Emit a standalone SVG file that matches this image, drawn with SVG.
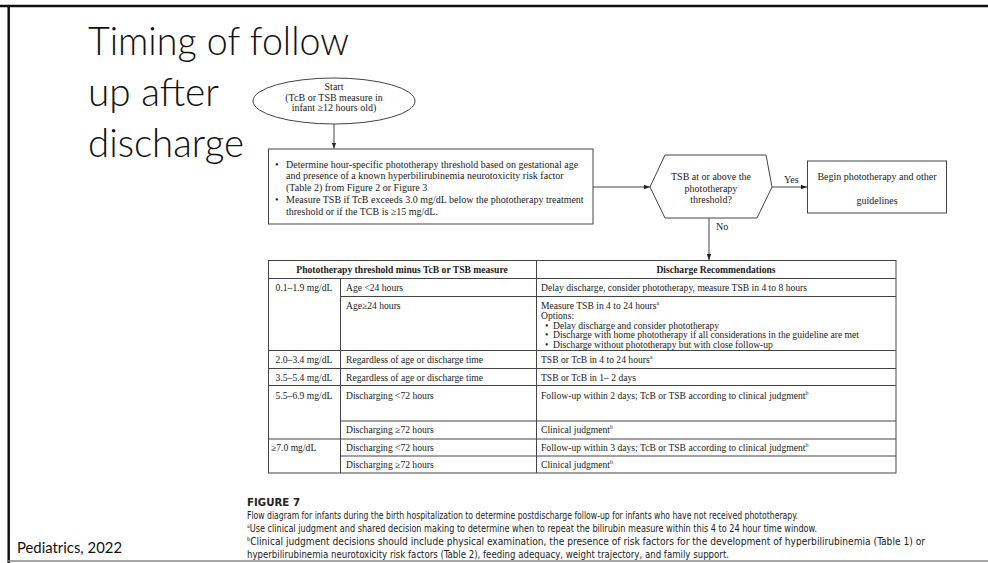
<svg xmlns="http://www.w3.org/2000/svg" width="988" height="563" viewBox="0 0 988 563">
<defs>
<marker id="ah" viewBox="0 0 8 6" refX="8" refY="3" markerWidth="6" markerHeight="5" markerUnits="userSpaceOnUse" orient="auto">
<path d="M0,0 L8,3 L0,6 z" fill="#222"/>
</marker>
<style>
.t{font-family:"Liberation Serif","Times New Roman",serif;font-size:10px;fill:#222}
.tb .t{font-size:9.6px}
.b{font-weight:bold}
.m{text-anchor:middle}
.ln{stroke:#444;stroke-width:1;fill:none}
.sh{fill:#fff;stroke:#444;stroke-width:1}
.cap{font-family:"Liberation Sans Narrow","DejaVu Sans Condensed","Liberation Sans",sans-serif;font-size:11px;fill:#222}
.ttl{font-family:Lato,"Open Sans",sans-serif;font-weight:300;font-size:40px;fill:#111}
.sup{font-size:6px}
</style>
</defs>
<rect width="988" height="563" fill="#fff"/>
<!-- slide frame -->
<line x1="0" y1="6" x2="988" y2="6" stroke="#111" stroke-width="2.5"/>
<line x1="8.7" y1="5" x2="8.7" y2="563" stroke="#111" stroke-width="2.5"/>
<line x1="8" y1="561" x2="988" y2="561" stroke="#888" stroke-width="1.5"/>
<!-- title -->
<g id="title">
<text class="ttl" x="88" y="55" textLength="261" lengthAdjust="spacingAndGlyphs">Timing of follow</text>
<text class="ttl" x="88" y="106" textLength="131" lengthAdjust="spacingAndGlyphs">up after</text>
<text class="ttl" x="88" y="157" textLength="156" lengthAdjust="spacingAndGlyphs">discharge</text>
</g>
<text x="17" y="553" font-family="Lato,'Open Sans',sans-serif" font-size="15" fill="#111" textLength="105" lengthAdjust="spacingAndGlyphs">Pediatrics, 2022</text>
<!-- connectors -->
<g id="connectors">
<line class="ln" x1="334" y1="124" x2="334" y2="148.5" marker-end="url(#ah)"/>
<line class="ln" x1="593" y1="187" x2="650" y2="187" marker-end="url(#ah)"/>
<line class="ln" x1="772" y1="187" x2="807" y2="187" marker-end="url(#ah)"/>
<line class="ln" x1="709" y1="218" x2="709" y2="260" marker-end="url(#ah)"/>
<text class="t" x="784" y="183" font-size="9">Yes</text>
<text class="t" x="716" y="230" font-size="9">No</text>
</g>
<!-- start -->
<g id="start">
<ellipse class="sh" cx="334" cy="101" rx="81" ry="23"/>
<text class="t m" x="334" y="90">Start</text>
<text class="t m" x="334" y="100.5">(TcB or TSB measure in</text>
<text class="t m" x="334" y="111">infant ≥12 hours old)</text>
</g>
<!-- determine box -->
<g id="determine">
<rect class="sh" x="268.5" y="149" width="324.5" height="75"/>
<text class="t" x="275" y="167.5">•</text>
<text class="t" x="286" y="167.5" font-size="9.8">Determine hour-specific phototherapy threshold based on gestational age</text>
<text class="t" x="286" y="179" font-size="9.8">and presence of a known hyperbilirubinemia neurotoxicity risk factor</text>
<text class="t" x="286" y="190.5" font-size="9.8">(Table 2) from Figure 2 or Figure 3</text>
<text class="t" x="275" y="203">•</text>
<text class="t" x="286" y="203" font-size="9.8">Measure TSB if TcB exceeds 3.0 mg/dL below the phototherapy treatment</text>
<text class="t" x="286" y="215" font-size="9.8">threshold or if the TCB is  ≥15 mg/dL.</text>
</g>
<!-- decision -->
<g id="decision">
<polygon class="sh" points="650,187 665,155 766,155 772,187 757,218 665,218"/>
<text class="t m" x="711" y="180">TSB at or above the</text>
<text class="t m" x="711" y="191.5">phototherapy</text>
<text class="t m" x="711" y="203">threshold?</text>
</g>
<!-- begin phototherapy -->
<g id="begin">
<rect class="sh" x="807.5" y="161" width="139" height="52"/>
<text class="t m" x="877" y="179.5">Begin phototherapy and other</text>
<text class="t m" x="877" y="203.5">guidelines</text>
</g>
<!-- table -->
<g id="table" class="tb">
<rect x="268.5" y="260.5" width="627.5" height="212.5" fill="#fff" stroke="#444" stroke-width="1"/>
<g class="ln">
<line x1="268.5" y1="278.5" x2="896" y2="278.5"/>
<line x1="340.5" y1="296.5" x2="896" y2="296.5"/>
<line x1="268.5" y1="350.5" x2="896" y2="350.5"/>
<line x1="268.5" y1="368.5" x2="896" y2="368.5"/>
<line x1="268.5" y1="385.5" x2="896" y2="385.5"/>
<line x1="340.5" y1="421" x2="896" y2="421"/>
<line x1="268.5" y1="439" x2="896" y2="439"/>
<line x1="340.5" y1="456" x2="896" y2="456"/>
<line x1="340.5" y1="278.5" x2="340.5" y2="473"/>
<line x1="536.5" y1="260.5" x2="536.5" y2="473"/>
</g>
<text class="t b m" x="402" y="273">Phototherapy threshold minus TcB or TSB measure</text>
<text class="t b m" x="716" y="273">Discharge Recommendations</text>

<text class="t m" x="304" y="291">0.1–1.9 mg/dL</text>
<text class="t" x="346" y="291">Age &lt;24 hours</text>
<text class="t" x="541" y="291">Delay discharge, consider phototherapy, measure TSB in 4 to 8 hours</text>

<text class="t" x="346" y="309">Age≥24 hours</text>
<text class="t" x="541" y="309">Measure TSB in 4 to 24 hours<tspan class="sup" dy="-4">a</tspan></text>
<text class="t" x="541" y="318.8">Options:</text>
<text class="t" x="545" y="328.6">•</text>
<text class="t" x="553" y="328.6">Delay discharge and consider phototherapy</text>
<text class="t" x="545" y="338.4">•</text>
<text class="t" x="553" y="338.4">Discharge with home phototherapy if all considerations in the guideline are met</text>
<text class="t" x="545" y="348">•</text>
<text class="t" x="553" y="348">Discharge without phototherapy but with close follow-up</text>

<text class="t m" x="304" y="363">2.0–3.4 mg/dL</text>
<text class="t" x="346" y="363">Regardless of age or discharge time</text>
<text class="t" x="541" y="363">TSB or TcB in 4 to 24 hours<tspan class="sup" dy="-4">a</tspan></text>

<text class="t m" x="304" y="381">3.5–5.4 mg/dL</text>
<text class="t" x="346" y="381">Regardless of age or discharge time</text>
<text class="t" x="541" y="381">TSB or TcB in 1– 2 days</text>

<text class="t m" x="304" y="399">5.5–6.9 mg/dL</text>
<text class="t" x="346" y="399">Discharging &lt;72 hours</text>
<text class="t" x="541" y="399">Follow-up within 2 days; TcB or TSB according to clinical judgment<tspan class="sup" dy="-4">b</tspan></text>

<text class="t" x="346" y="433">Discharging ≥72 hours</text>
<text class="t" x="541" y="433">Clinical judgment<tspan class="sup" dy="-4">b</tspan></text>

<text class="t" x="271" y="451">≥7.0 mg/dL</text>
<text class="t" x="346" y="451">Discharging &lt;72 hours</text>
<text class="t" x="541" y="451">Follow-up within 3 days; TcB or TSB according to clinical judgment<tspan class="sup" dy="-4">b</tspan></text>

<text class="t" x="346" y="468">Discharging ≥72 hours</text>
<text class="t" x="541" y="468">Clinical judgment<tspan class="sup" dy="-4">b</tspan></text>
</g>
<!-- caption -->
<g id="caption">
<text class="cap" x="247" y="506" font-weight="bold" textLength="53" lengthAdjust="spacingAndGlyphs">FIGURE 7</text>
<text class="cap" x="247" y="519" textLength="551" lengthAdjust="spacingAndGlyphs">Flow diagram for infants during the birth hospitalization to determine postdischarge follow-up for infants who have not received phototherapy.</text>
<text class="cap" x="247" y="532" textLength="570" lengthAdjust="spacingAndGlyphs"><tspan class="sup" dy="-4">a</tspan><tspan dy="4">Use clinical judgment and shared decision making to determine when to repeat the bilirubin measure within this 4 to 24 hour time window.</tspan></text>
<text class="cap" x="247" y="545" textLength="678" lengthAdjust="spacingAndGlyphs"><tspan class="sup" dy="-4">b</tspan><tspan dy="4">Clinical judgment decisions should include physical examination, the presence of risk factors for the development of hyperbilirubinemia (Table 1) or</tspan></text>
<text class="cap" x="247" y="557.5" textLength="482" lengthAdjust="spacingAndGlyphs">hyperbilirubinemia neurotoxicity risk factors (Table 2), feeding adequacy, weight trajectory, and family support.</text>
</g>
</svg>
